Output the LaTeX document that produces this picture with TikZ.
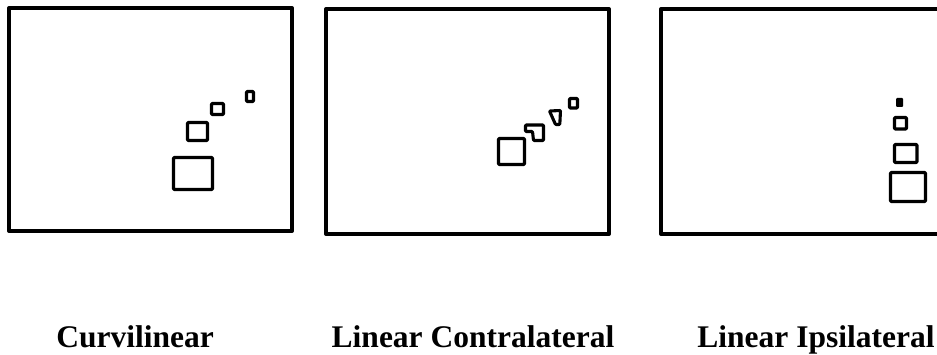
\documentclass[tikz,border=0pt]{standalone}
\usepackage{fontspec}
\setmainfont{Liberation Serif}
\begin{document}
\begin{tikzpicture}[x=1pt,y=-1pt,
  frame/.style={draw=black,line width=4pt,line join=round},
  blob/.style={draw=black,line width=3.1pt,line join=round,rounded corners=0.8pt},
  lbl/.style={font=\bfseries\fontsize{31.5}{34}\selectfont,anchor=base,inner sep=0pt}]
\useasboundingbox (0,0) rectangle (937,355);
\fill[white] (0,0) rectangle (937,355);
% panel 1
\draw[frame] (9,8) rectangle (292,231);
\draw[blob] (246.5,91.5) rectangle (253.5,101.5);
\draw[blob] (211.5,103.5) rectangle (223.5,114.5);
\draw[blob] (187.5,122.5) rectangle (207.5,140.5);
\draw[blob] (173.5,157.5) rectangle (212.5,189.5);
% panel 2
\draw[frame] (326,9) rectangle (609,234);
\draw[blob] (498.5,138.5) rectangle (524.5,164.5);
\draw[blob] (525.5,125) -- (543.5,125) -- (543.5,140.5) -- (533.5,140.5) -- (532.5,131.5) -- (525.5,131.5) -- cycle;
\draw[blob] (549.5,111) -- (560.5,110.5) -- (559.8,124.5) -- (555.5,124.5) -- cycle;
\draw[blob] (569.5,98.5) rectangle (577.5,108);
% panel 3
\draw[frame] (945,9) -- (661,9) -- (661,234) -- (945,234);
\fill[rounded corners=1pt] (896,98) rectangle (903,107);
\draw[blob] (894.5,117.5) rectangle (906.5,129);
\draw[blob] (894.5,144.5) rectangle (917,162.5);
\draw[blob] (890.5,172.5) rectangle (925.5,201.5);
% labels
\node[lbl] (l1) at (135,347) {Curvilinear};
\node[lbl] (l2) at (473,347) {Linear Contralateral};
\node[lbl] (l3) at (816,347) {Linear Ipsilateral};
\end{tikzpicture}
\end{document}
